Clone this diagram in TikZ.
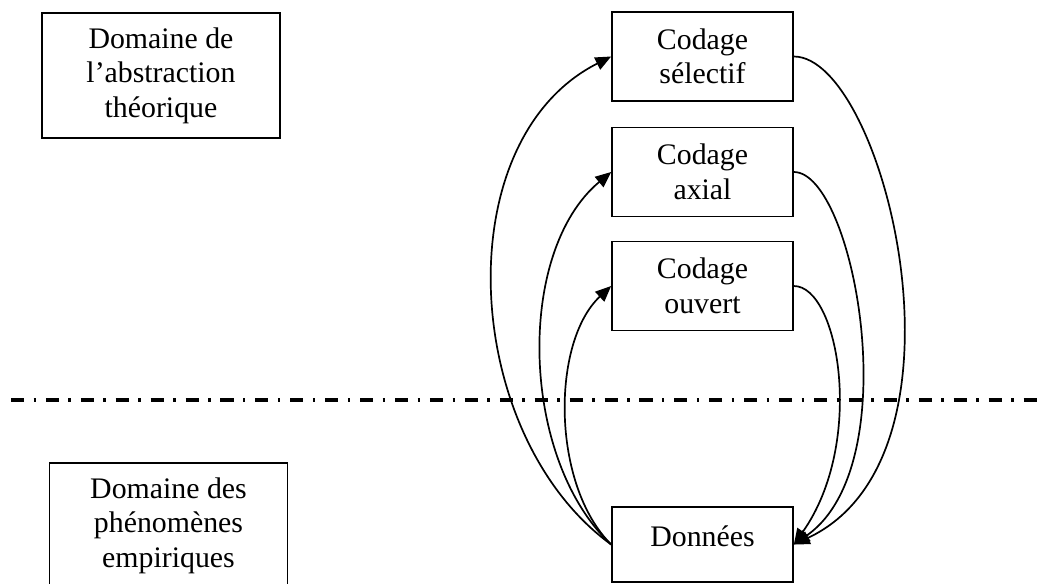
\documentclass[tikz,border=0pt]{standalone}
\usepackage{fontspec}
\setmainfont{Liberation Serif}
\usetikzlibrary{arrows.meta}
\tikzset{
  boite/.style={draw, line width=0.8pt, align=center, inner sep=0pt,
    font=\fontsize{12.3}{14.2}\selectfont},
  domaine/.style={boite, minimum width=3.45cm, minimum height=1.81cm},
  codage/.style={boite, minimum width=2.62cm, minimum height=1.29cm},
}
\begin{document}
\begin{tikzpicture}[x=0.0145cm, y=-0.0145cm]
      \useasboundingbox (0,0) rectangle (1050,583);
      \draw
        (161,75.5) node[domaine] (theorie){Domaine de\\l’abstraction\\théorique}
        (168.5,525.5) node[domaine] (empirie){Domaine des\\phénomènes\\empiriques}
        (702.5,56.5) node[codage] (selectif){Codage\\sélectif}
        (702.5,172) node[codage] (axial){Codage\\axial}
        (702.5,286) node[codage] (ouvert){Codage\\ouvert}
        (702.5,544.5) node[codage, minimum height=1.09cm, text height=8.5pt, text depth=6.5pt] (donnees){Données};
      \coordinate (limiteG) at (11,400);
      \coordinate (limiteD) at (1041,400);
      \draw[line width=1.4pt, dash pattern=on 5.4pt off 3.9pt on 1pt off 4.1pt] (limiteG) -- (limiteD);
      \begin{scope}[-{Triangle[length=6.5pt,width=5.5pt]}, line width=0.7pt]
        \draw (donnees.west) .. controls +(-150,-109) and +(-166,84) .. (selectif.west);
        \draw (donnees.west) .. controls +(-91,-85) and +(-96,80) .. (axial.west);
        \draw (donnees.west) .. controls +(-60,-60) and +(-60,56) .. (ouvert.west);
        \draw (selectif.east) .. controls +(90,0) and +(190,-89) .. (donnees.east);
        \draw (axial.east) .. controls +(60,0) and +(115,-80) .. (donnees.east);
        \draw (ouvert.east) .. controls +(45,0) and +(72,-102) .. (donnees.east);
      \end{scope}
    \end{tikzpicture}
\end{document}
